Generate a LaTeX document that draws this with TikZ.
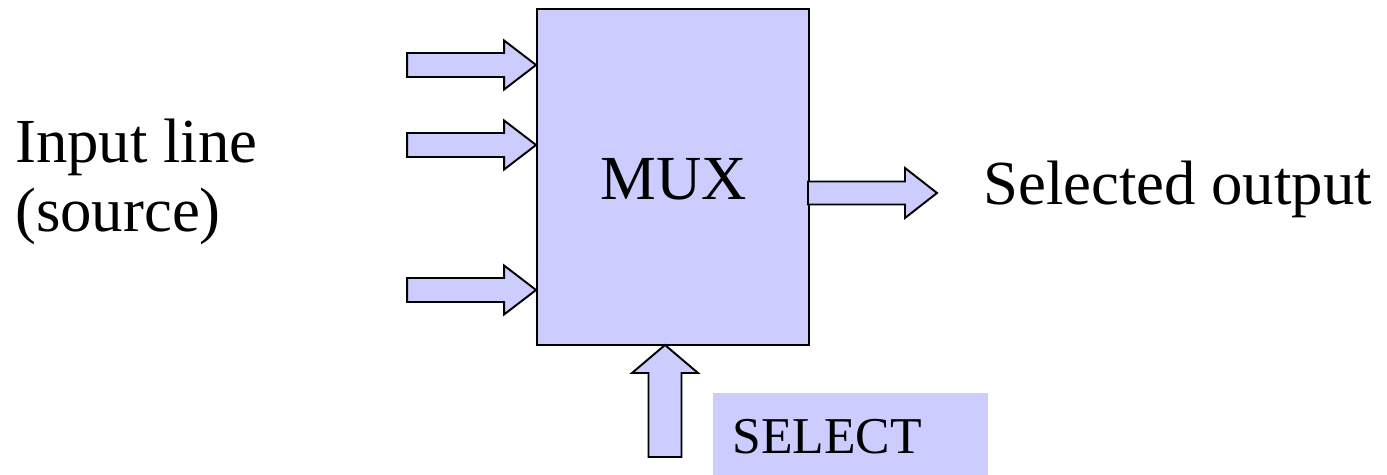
\documentclass[tikz,border=0pt]{standalone}
\usepackage{fontspec}
\setmainfont{Liberation Serif}
\definecolor{muxfill}{HTML}{CCCCFF}
\tikzset{
  outline/.style={draw=black, line width=1.1pt, fill=muxfill, line join=miter},
  bigtext/.style={font=\fontsize{35.7}{39}\selectfont, inner sep=0pt, anchor=base west},
  % block arrow with its tip at the pic origin, pointing along +x:
  % #1 total length, #2 head length, #3 head half-width, #4 shaft half-width
  pics/fatarrow/.style n args={4}{code={
    \draw[outline] (0,0) -- (-#2,-#3) -- (-#2,-#4) -- (-#1,-#4)
      -- (-#1,#4) -- (-#2,#4) -- (-#2,#3) -- cycle;
  }}
}
\begin{document}
\begin{tikzpicture}[x=0.02cm, y=-0.02cm]
\useasboundingbox (0,0) rectangle (1387,475);

% multiplexer block
\node[outline, minimum width=5.44cm, minimum height=6.72cm, inner sep=0pt]
  (mux) at (673,177) {};
\node[bigtext, anchor=base] (muxlabel) at (674,200) {MUX};

% tips of the input arrows on the left side of the block
\coordinate (in1) at (mux.west |- 0,65);
\coordinate (in2) at (mux.west |- 0,145);
\coordinate (in3) at (mux.west |- 0,290);
\pic at (in1) {fatarrow={129}{32}{24.5}{12}};
\pic at (in2) {fatarrow={129}{32}{24.5}{12}};
\pic at (in3) {fatarrow={129}{32}{24.5}{12}};

% output arrow
\coordinate (outtip) at (937,193);
\pic at (outtip) {fatarrow={129}{32}{25}{11.5}};

% select arrow pointing up into the block
\coordinate (seltip) at (665,345);
\pic[rotate=90] at (seltip) {fatarrow={112}{28}{33}{16.5}};

% select label
\node[fill=muxfill, minimum width=5.5cm, minimum height=1.7cm, inner sep=0pt,
  anchor=north west] (selbox) at (713,393) {};
\node[font=\fontsize{29.4}{32}\selectfont, inner sep=0pt, anchor=base west]
  (seltext) at (732,454) {SELECT};

% side labels
\node[bigtext] (inlabel) at (15,163) {Input line};
\node[bigtext] (srclabel) at (15,232) {(source)};
\node[bigtext] (outlabel) at (983,205) {Selected output};
\end{tikzpicture}
\end{document}
